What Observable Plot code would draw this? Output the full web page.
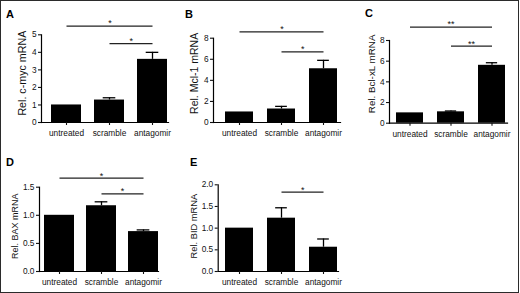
<!DOCTYPE html>
<html>
<head>
<meta charset="utf-8">
<script src="https://cdn.jsdelivr.net/npm/d3@7"></script>
<script src="https://cdn.jsdelivr.net/npm/@observablehq/plot@0.6"></script>
<style>
  html, body { margin: 0; padding: 0; background: #fff; }
  #fig { position: relative; width: 520px; height: 293px; overflow: hidden; font-family: "Liberation Sans", Arial, sans-serif; }
  #border { position: absolute; left: 0; top: 0; width: 519px; height: 293px; box-sizing: border-box; border: 1.5px solid #2b2b2b; pointer-events: none; }
  .panel { position: absolute; }
  .letter { position: absolute; font-weight: bold; font-size: 11px; line-height: 1; color: #000; }
</style>
</head>
<body>
<div id="fig"><div id="border"></div></div>
<script>
// ---- data ----
const categories = ["untreated", "scramble", "antagomir"];

const cmycMean = [1.0, 1.28, 3.6];
const cmycSem  = [0, 0.13, 0.4];
const cmycBrackets = [
  {from: "untreated", to: "antagomir", level: 5.5, mark: "*"},
  {from: "scramble",  to: "antagomir", level: 4.5, mark: "*"}
];

const mcl1Mean = [1.0, 1.28, 5.1];
const mcl1Sem  = [0, 0.25, 0.8];
const mcl1Brackets = [
  {from: "untreated", to: "antagomir", level: 8.6, mark: "*"},
  {from: "scramble",  to: "antagomir", level: 6.7, mark: "*"}
];

const bclxlMean = [1.0, 1.1, 5.6];
const bclxlSem  = [0, 0.08, 0.25];
const bclxlBrackets = [
  {from: "untreated", to: "antagomir", level: 9.3, mark: "**"},
  {from: "scramble",  to: "antagomir", level: 7.45, mark: "**"}
];

const baxMean = [1.0, 1.17, 0.71];
const baxSem  = [0, 0.07, 0.03];
const baxBrackets = [
  {from: "untreated", to: "antagomir", level: 1.66, mark: "*"},
  {from: "scramble",  to: "antagomir", level: 1.38, mark: "*"}
];

const bidMean = [1.0, 1.23, 0.56];
const bidSem  = [0, 0.24, 0.19];
const bidBrackets = [
  {from: "scramble", to: "antagomir", level: 1.83, mark: "*"}
];

const panels = [
  {letter: "A", label: "Rel. c-myc mRNA", mean: cmycMean, sem: cmycSem, brackets: cmycBrackets,
   domain: [0, 5], ticks: [0, 1, 2, 3, 4, 5], fmt: d3.format("d"),
   left: 0, top: 0, width: 175, height: 145, ml: 41, mr: 7, mt: 34.3, mb: 23,
   pi: 0.31, po: 0.115, align: 0.85, labelSize: 10.7, labelDx: -18.5, labelDy: -5.5,
   lx: 6, ly: 8.5},
  {letter: "B", label: "Rel. Mcl-1 mRNA", mean: mcl1Mean, sem: mcl1Sem, brackets: mcl1Brackets,
   domain: [0, 8], ticks: [0, 2, 4, 6, 8], fmt: d3.format("d"),
   left: 170, top: 0, width: 175, height: 145, ml: 43, mr: 5, mt: 37.7, mb: 23,
   pi: 0.34, po: 0.165, align: 0.79, labelSize: 10.5, labelDx: -18.5, labelDy: -7,
   lx: 185, ly: 8.5},
  {letter: "C", label: "Rel. Bcl-xL mRNA", mean: bclxlMean, sem: bclxlSem, brackets: bclxlBrackets,
   domain: [0, 8], ticks: [0, 2, 4, 6, 8], fmt: d3.format("d"),
   left: 345, top: 0, width: 170, height: 145, ml: 44, mr: 8, mt: 40, mb: 22.3,
   pi: 0.34, po: 0.109, align: 0.8, labelSize: 9.8, labelDx: -18, labelDy: -8,
   lx: 365, ly: 7.5},
  {letter: "D", label: "Rel. BAX mRNA", mean: baxMean, sem: baxSem, brackets: baxBrackets,
   domain: [0, 1.5], ticks: [0, 0.5, 1, 1.5], fmt: d3.format(".1f"),
   left: 0, top: 145, width: 170, height: 145, ml: 39, mr: 12, mt: 41.7, mb: 19,
   pi: 0.29, po: 0.06, align: 1, labelSize: 9, labelDx: -24, labelDy: -3,
   lx: 6, ly: 156.5},
  {letter: "E", label: "Rel. BID mRNA", mean: bidMean, sem: bidSem, brackets: bidBrackets,
   domain: [0, 2], ticks: [0, 0.5, 1, 1.5, 2], fmt: d3.format(".1f"),
   left: 170, top: 145, width: 175, height: 145, ml: 47.7, mr: 7, mt: 39.3, mb: 19,
   pi: 0.34, po: 0.08, align: 0.85, labelSize: 9.3, labelDx: -24, labelDy: -2,
   lx: 190, ly: 156.5}
];

const fig = document.getElementById("fig");
const tickFont = 8.3;

for (const p of panels) {
  const rows = categories.map((c, i) => ({cat: c, mean: p.mean[i], sem: p.sem[i]}));
  const xOpts = {type: "band", domain: categories, range: [p.ml, p.width - p.mr],
                 paddingInner: p.pi, paddingOuter: p.po, align: p.align};
  const xs = Plot.scale({x: xOpts});
  const bw = xs.bandwidth;

  const starMarks = p.brackets.map(b => Plot.text([b], {
    x: "from", y: "level", text: "mark",
    dx: (xs.apply(b.to) - xs.apply(b.from)) / 2, dy: -2.5,
    fontSize: 9, fill: "#111"
  }));

  const chart = Plot.plot({
    width: p.width, height: p.height,
    marginLeft: p.ml, marginRight: p.mr, marginTop: p.mt, marginBottom: p.mb,
    style: {background: "transparent", overflow: "visible", fontFamily: "Liberation Sans, Arial, sans-serif", fontSize: tickFont + "px", color: "#111"},
    x: {domain: categories, paddingInner: p.pi, paddingOuter: p.po, align: p.align},
    y: {domain: p.domain, clamp: false},
    marks: [
      Plot.barY(rows, {x: "cat", y: "mean", fill: "#000"}),
      Plot.ruleX(rows.filter(d => d.sem > 0), {x: "cat", y1: "mean", y2: d => d.mean + d.sem, stroke: "#000", strokeWidth: 1.3}),
      Plot.tickY(rows.filter(d => d.sem > 0), {x: "cat", y: d => d.mean + d.sem, stroke: "#000", strokeWidth: 1.3, inset: bw * 0.29}),
      Plot.link(p.brackets, {x1: "from", x2: "to", y1: "level", y2: "level", stroke: "#222", strokeWidth: 1.2}),
      ...starMarks,
      Plot.frame({anchor: "left", stroke: "#000", strokeWidth: 1.2}),
      Plot.frame({anchor: "bottom", stroke: "#000", strokeWidth: 1.2}),
      Plot.axisY({ticks: p.ticks, tickFormat: p.fmt, tickSize: 3, tickPadding: 2, label: null, fontSize: tickFont, strokeWidth: 1.1}),
      Plot.axisX({tickSize: 3, tickPadding: 5, label: null, fontSize: tickFont, strokeWidth: 1.1}),
      Plot.text([p.label], {frameAnchor: "left", rotate: -90, dx: p.labelDx, dy: p.labelDy, fontSize: p.labelSize, textAnchor: "middle", fill: "#111"})
    ]
  });
  chart.classList.add("panel");
  chart.style.left = p.left + "px";
  chart.style.top = p.top + "px";
  fig.appendChild(chart);

  const L = document.createElement("div");
  L.className = "letter";
  L.textContent = p.letter;
  L.style.left = p.lx + "px";
  L.style.top = p.ly + "px";
  fig.appendChild(L);
}
</script>
</body>
</html>
